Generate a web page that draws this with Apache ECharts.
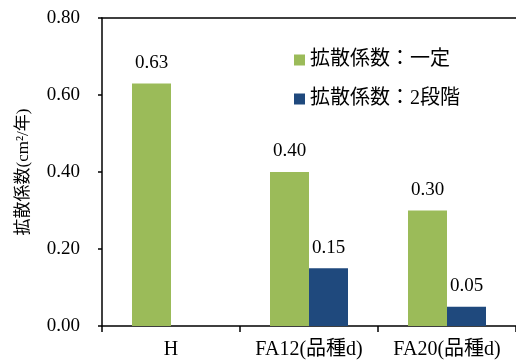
<!DOCTYPE html>
<html>
<head>
<meta charset="utf-8">
<script src="https://cdn.jsdelivr.net/npm/echarts@6/dist/echarts.min.js"></script>
<style>
  html, body { margin: 0; padding: 0; background: #fff; }
  #chart { width: 516px; height: 362px; }
</style>
</head>
<body>
<div id="chart"></div>
<script>
// Diffusion coefficient by mix
const categories = ['H', 'FA12(品種d)', 'FA20(品種d)'];
const constantCoef = [0.63, 0.40, 0.30];
const twoStageCoef = [null, 0.15, 0.05];
const seriesNames = ['拡散係数：一定', '拡散係数：2段階'];
const yTicks = { min: 0, max: 0.8, interval: 0.2 };

const FONT = "'Liberation Serif', 'Noto Sans CJK JP', serif";
const GREEN = '#9BBB59';
const BLUE = '#1F497D';

const chart = echarts.init(document.getElementById('chart'), null, { renderer: 'canvas' });

const labelStyle = {
  show: true,
  position: 'top',
  distance: 11,
  color: '#000',
  fontFamily: FONT,
  fontSize: 19,
  formatter: p => p.value == null ? '' : Number(p.value).toFixed(2)
};

chart.setOption({
  animation: false,
  backgroundColor: '#fff',
  grid: { left: 102, right: -5, top: 18, bottom: 36, containLabel: false },
  legend: {
    orient: 'vertical',
    left: 289,
    top: 45,
    icon: 'rect',
    itemWidth: 11,
    itemHeight: 11,
    itemGap: 19,
    textStyle: { fontFamily: FONT, fontSize: 20, color: '#000' },
    data: seriesNames
  },
  xAxis: [
    {
      type: 'category',
      data: categories,
      axisLine: { show: true, lineStyle: { color: '#000', width: 1.5 } },
      axisTick: { show: true, length: 6, lineStyle: { color: '#000', width: 1.5 } },
      axisLabel: {
        interval: 0, hideOverlap: false,
        color: '#000', fontFamily: FONT, fontSize: 20, margin: 14
      }
    },
    {
      type: 'category',
      position: 'top',
      data: categories,
      axisLine: { show: true, lineStyle: { color: '#000', width: 1.5 } },
      axisTick: { show: false },
      axisLabel: { show: false }
    }
  ],
  yAxis: {
    type: 'value',
    min: yTicks.min,
    max: yTicks.max,
    interval: yTicks.interval,
    name: '拡散係数(cm²/年)',
    nameLocation: 'middle',
    nameGap: 70,
    nameTextStyle: { fontFamily: FONT, fontSize: 17, color: '#000' },
    axisLine: { show: true, lineStyle: { color: '#000', width: 1.5 } },
    axisTick: { show: true, length: 4, lineStyle: { color: '#000', width: 1.5 } },
    axisLabel: {
      color: '#000', fontFamily: FONT, fontSize: 19, margin: 22,
      formatter: v => v.toFixed(2)
    },
    splitLine: { show: false }
  },
  series: [
    {
      name: seriesNames[0],
      type: 'bar',
      data: constantCoef,
      barWidth: 39,
      barGap: '0%',
      itemStyle: { color: GREEN },
      label: labelStyle
    },
    {
      name: seriesNames[1],
      type: 'bar',
      data: twoStageCoef,
      barWidth: 39,
      barGap: '0%',
      itemStyle: { color: BLUE },
      label: labelStyle
    }
  ]
});
</script>
</body>
</html>
